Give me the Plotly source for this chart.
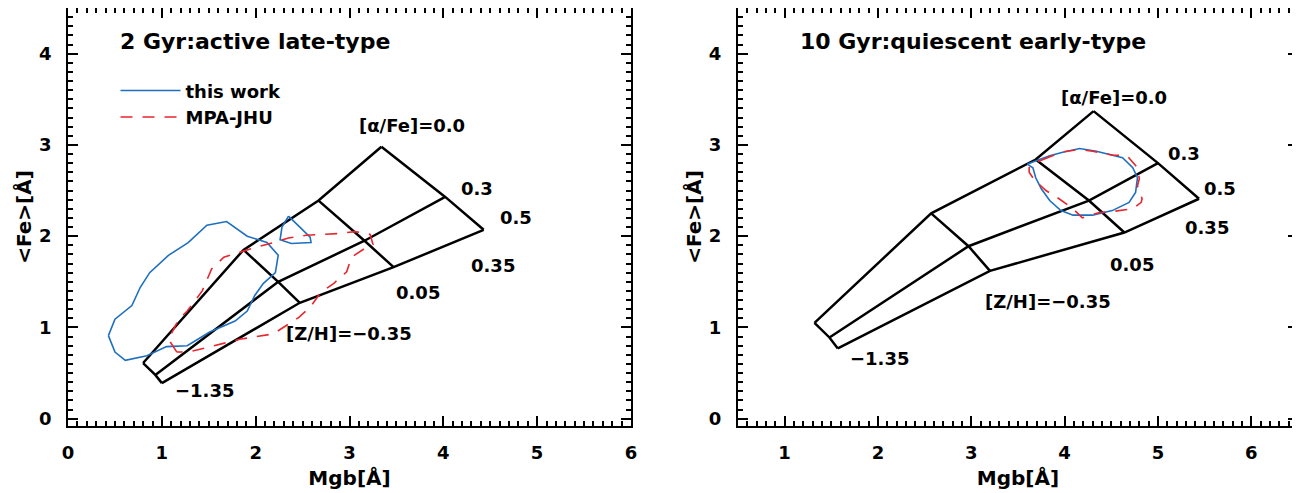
import plotly.graph_objects as go

# model grid: rows are [alpha/Fe] = 0.0, 0.3, 0.5 ; columns are [Z/H] = -1.35, -0.35, 0.05, 0.35
ALPHA = [0.0, 0.3, 0.5]
ZH = [-1.35, -0.35, 0.05, 0.35]

mgb_2gyr = [
    [0.80, 1.87, 2.67, 3.34],
    [0.93, 2.24, 3.16, 4.02],
    [1.00, 2.47, 3.47, 4.43],
]
fe_2gyr = [
    [0.61, 1.85, 2.39, 2.98],
    [0.48, 1.50, 1.95, 2.43],
    [0.39, 1.27, 1.66, 2.07],
]
mgb_10gyr = [
    [1.32, 2.57, 3.69, 4.31],
    [1.48, 2.97, 4.26, 5.00],
    [1.57, 3.20, 4.64, 5.44],
]
fe_10gyr = [
    [1.05, 2.25, 2.84, 3.37],
    [0.89, 1.89, 2.39, 2.80],
    [0.77, 1.62, 2.04, 2.41],
]

# contours, 2 Gyr active late-type
this_work_2gyr_x = [0.43, 0.50, 0.68, 0.77, 0.87, 1.07, 1.28, 1.48, 1.69, 1.91, 2.12, 2.24, 2.21,
                    2.08, 1.99, 1.91, 1.78, 1.51, 1.27, 1.05, 0.84, 0.61, 0.50, 0.43]
this_work_2gyr_y = [0.91, 1.09, 1.24, 1.44, 1.60, 1.79, 1.93, 2.12, 2.16, 2.00, 1.93, 1.79, 1.60,
                    1.48, 1.35, 1.18, 1.07, 0.95, 0.80, 0.79, 0.69, 0.64, 0.73, 0.91]
this_work_2gyr_small_x = [2.35, 2.47, 2.58, 2.59, 2.38, 2.26, 2.28, 2.35]
this_work_2gyr_small_y = [2.22, 2.10, 1.99, 1.93, 1.92, 1.96, 2.10, 2.22]
mpa_2gyr_x = [1.16, 1.07, 1.18, 1.27, 1.43, 1.53, 1.66, 1.87, 2.01, 2.19, 2.35, 2.54, 2.70, 2.90,
              3.06, 3.22, 3.25, 3.20, 3.02, 2.97, 2.83, 2.69, 2.58, 2.46, 2.19, 1.83, 1.48, 1.28, 1.16]
mpa_2gyr_y = [0.73, 0.87, 1.09, 1.18, 1.40, 1.64, 1.77, 1.84, 1.88, 1.93, 1.98, 2.01, 2.02, 2.03,
              2.05, 2.02, 1.91, 1.89, 1.77, 1.61, 1.48, 1.38, 1.22, 1.11, 0.93, 0.87, 0.78, 0.73, 0.73]

# contours, 10 Gyr quiescent early-type
this_work_10gyr_x = [3.60, 3.84, 3.98, 4.16, 4.34, 4.62, 4.73, 4.78, 4.76, 4.69, 4.51, 4.30, 4.09,
                     3.96, 3.84, 3.75, 3.69, 3.66, 3.60]
this_work_10gyr_y = [2.79, 2.88, 2.92, 2.96, 2.93, 2.86, 2.75, 2.64, 2.48, 2.37, 2.28, 2.23, 2.23,
                     2.28, 2.39, 2.52, 2.64, 2.75, 2.79]
mpa_10gyr_x = [3.77, 3.96, 4.16, 4.30, 4.51, 4.67, 4.78, 4.80, 4.78, 4.83, 4.82, 4.73, 4.51, 4.37,
               4.19, 4.09, 3.94, 3.80, 3.68, 3.62, 3.62, 3.69, 3.77]
mpa_10gyr_y = [2.84, 2.92, 2.95, 2.93, 2.89, 2.88, 2.75, 2.63, 2.55, 2.41, 2.37, 2.30, 2.27, 2.26,
               2.20, 2.30, 2.41, 2.50, 2.61, 2.70, 2.75, 2.81, 2.84]

BLUE = "#1f6fbf"
RED = "#e8262e"
FONT = "DejaVu Sans"


def grid_xy(mgb, fe):
    xs, ys = [], []
    for i in range(len(ALPHA)):
        xs += mgb[i] + [None]
        ys += fe[i] + [None]
    for j in range(len(ZH)):
        xs += [mgb[i][j] for i in range(len(ALPHA))] + [None]
        ys += [fe[i][j] for i in range(len(ALPHA))] + [None]
    return xs, ys


def bfont(size):
    return dict(family=FONT, size=size, color="black", weight="bold")


fig = go.Figure()

panels = [
    ("x", "y", mgb_2gyr, fe_2gyr,
     [(this_work_2gyr_x, this_work_2gyr_y), (this_work_2gyr_small_x, this_work_2gyr_small_y)],
     (mpa_2gyr_x, mpa_2gyr_y), True),
    ("x2", "y2", mgb_10gyr, fe_10gyr,
     [(this_work_10gyr_x, this_work_10gyr_y)],
     (mpa_10gyr_x, mpa_10gyr_y), False),
]

for xa, ya, mgb, fe, blues, red, legend in panels:
    gx, gy = grid_xy(mgb, fe)
    fig.add_trace(go.Scatter(x=gx, y=gy, mode="lines", xaxis=xa, yaxis=ya,
                             line=dict(color="black", width=2.5), showlegend=False,
                             hoverinfo="skip"))
    for k, (bx, by) in enumerate(blues):
        fig.add_trace(go.Scatter(x=bx, y=by, mode="lines", xaxis=xa, yaxis=ya,
                                 name="this work", line=dict(color=BLUE, width=1.6),
                                 showlegend=legend and k == 0))
    fig.add_trace(go.Scatter(x=red[0], y=red[1], mode="lines", xaxis=xa, yaxis=ya,
                             name="MPA-JHU", line=dict(color=RED, width=1.6, dash="12px,10px"),
                             showlegend=legend))

labels_left = [
    ("[α/Fe]=0.0", 3.67, 3.21), ("0.3", 4.36, 2.52), ("0.5", 4.77, 2.20),
    ("0.35", 4.53, 1.68), ("0.05", 3.73, 1.38), ("[Z/H]=−0.35", 2.99, 0.93),
    ("−1.35", 1.46, 0.31),
]
labels_right = [
    ("[α/Fe]=0.0", 4.53, 3.52), ("0.3", 5.28, 2.91), ("0.5", 5.66, 2.52),
    ("0.35", 5.53, 2.10), ("0.05", 4.72, 1.69), ("[Z/H]=−0.35", 3.82, 1.28),
    ("−1.35", 2.02, 0.66),
]
for labels, xr, yr in [(labels_left, "x", "y"), (labels_right, "x2", "y2")]:
    for txt, lx, ly in labels:
        fig.add_annotation(x=lx, y=ly, xref=xr, yref=yr, text=txt, showarrow=False,
                           font=bfont(18))

fig.add_annotation(x=0.53, y=4.13, xref="x", yref="y", text="2 Gyr:active late-type",
                   showarrow=False, xanchor="left", font=bfont(22))
fig.add_annotation(x=1.14, y=4.13, xref="x2", yref="y2", text="10 Gyr:quiescent early-type",
                   showarrow=False, xanchor="left", font=bfont(22))

axis_common = dict(
    showgrid=False, zeroline=False, showline=True, linecolor="black", linewidth=2,
    mirror="allticks", ticks="inside", ticklen=10, tickwidth=2, tickcolor="black",
    dtick=1, tickfont=bfont(18), automargin=False,
    minor=dict(ticks="inside", ticklen=5, tickwidth=1.5, tickcolor="black", dtick=0.1),
)

# the page body adds an 8px offset, so the figure is laid out 8px up/left of the target
fig.update_layout(
    width=1300, height=493,
    margin=dict(l=0, r=0, t=0, b=75),
    plot_bgcolor="white", paper_bgcolor="white",
    font=dict(family=FONT, color="black"),
    xaxis=dict(axis_common, domain=[0.0462, 0.4792], range=[0, 6], anchor="y",
               ticklabelstandoff=9,
               title=dict(text="Mgb[Å]", font=bfont(20), standoff=9)),
    yaxis=dict(axis_common, domain=[0, 1], range=[-0.08, 4.5], anchor="x",
               ticklabelstandoff=11,
               title=dict(text="<Fe>[Å]", font=bfont(20), standoff=2)),
    xaxis2=dict(axis_common, domain=[0.5615, 0.9923], range=[0.5, 6.5], anchor="y2",
                ticklabelstandoff=9,
                title=dict(text="Mgb[Å]", font=bfont(20), standoff=9)),
    yaxis2=dict(axis_common, domain=[0, 1], range=[-0.08, 4.5], anchor="x2",
                ticklabelstandoff=11,
                title=dict(text="<Fe>[Å]", font=bfont(20), standoff=2)),
    legend=dict(x=0.0827, y=0.846, xanchor="left", yanchor="top", bgcolor="rgba(0,0,0,0)",
                font=bfont(18), tracegroupgap=0, itemwidth=60),
)

fig.write_html("out.html")
